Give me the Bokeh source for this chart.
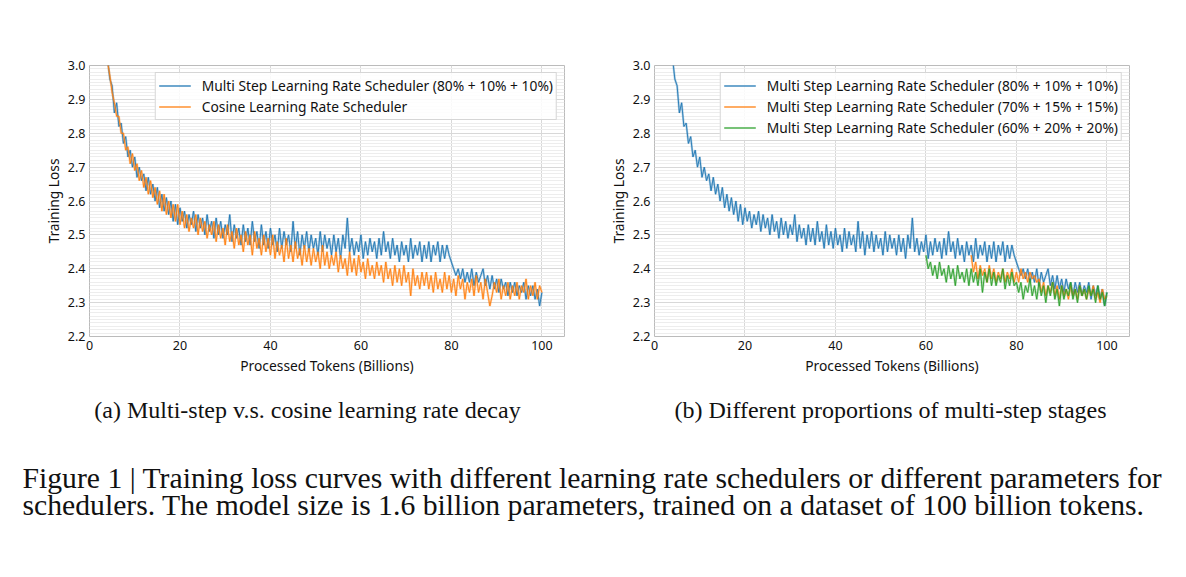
from bokeh.plotting import figure
from bokeh.models import Range1d, FixedTicker, Legend, LegendItem, Label
from bokeh.layouts import column, row
from bokeh.embed import file_html
from bokeh.resources import INLINE

# ---------------- data ----------------
STEP = 0.5
# Multi Step 80% + 10% + 10%  (x from 4.0 to 100.0, step 0.5)
multi_80 = [
    3.02, 2.96, 2.94, 2.86, 2.89, 2.82, 2.83, 2.77, 2.79, 2.73,
    2.75, 2.70, 2.73, 2.67, 2.70, 2.66, 2.68, 2.63, 2.67, 2.62,
    2.65, 2.60, 2.64, 2.58, 2.62, 2.57, 2.61, 2.56, 2.60, 2.54,
    2.59, 2.53, 2.58, 2.54, 2.57, 2.52, 2.56, 2.53, 2.57, 2.51,
    2.56, 2.52, 2.55, 2.50, 2.56, 2.51, 2.54, 2.49, 2.55, 2.50,
    2.54, 2.49, 2.53, 2.50, 2.56, 2.48, 2.53, 2.49, 2.52, 2.47,
    2.53, 2.48, 2.52, 2.47, 2.54, 2.48, 2.51, 2.46, 2.53, 2.47,
    2.51, 2.46, 2.52, 2.47, 2.50, 2.45, 2.52, 2.46, 2.51, 2.47,
    2.50, 2.45, 2.54, 2.46, 2.51, 2.44, 2.50, 2.46, 2.51, 2.45,
    2.50, 2.46, 2.49, 2.44, 2.51, 2.45, 2.50, 2.46, 2.49, 2.44,
    2.50, 2.45, 2.49, 2.43, 2.50, 2.46, 2.55, 2.45, 2.49, 2.44,
    2.48, 2.45, 2.50, 2.43, 2.48, 2.44, 2.49, 2.45, 2.48, 2.43,
    2.49, 2.44, 2.51, 2.45, 2.48, 2.43, 2.49, 2.44, 2.47, 2.42,
    2.48, 2.44, 2.47, 2.42, 2.49, 2.43, 2.47, 2.44, 2.48, 2.42,
    2.47, 2.43, 2.48, 2.42, 2.47, 2.44, 2.48, 2.42, 2.47, 2.43,
    2.47, 2.44, 2.42, 2.40, 2.38, 2.40, 2.37, 2.40, 2.36, 2.39,
    2.36, 2.40, 2.35, 2.39, 2.36, 2.38, 2.40, 2.35, 2.38, 2.34,
    2.38, 2.34, 2.37, 2.33, 2.37, 2.34, 2.36, 2.32, 2.36, 2.33,
    2.36, 2.32, 2.35, 2.33, 2.36, 2.31, 2.35, 2.32, 2.35, 2.31,
    2.34, 2.29, 2.33,
]
multi_80_start = 4.0

# Cosine scheduler (x from 4.0 to 100.0, step 0.5)
cosine = [
    3.01, 2.97, 2.92, 2.89, 2.85, 2.85, 2.80, 2.80, 2.75, 2.76,
    2.71, 2.74, 2.69, 2.71, 2.66, 2.69, 2.64, 2.67, 2.62, 2.66,
    2.61, 2.64, 2.59, 2.63, 2.57, 2.62, 2.56, 2.60, 2.55, 2.59,
    2.54, 2.59, 2.53, 2.57, 2.52, 2.56, 2.51, 2.55, 2.52, 2.56,
    2.50, 2.55, 2.51, 2.54, 2.49, 2.53, 2.50, 2.54, 2.48, 2.53,
    2.49, 2.52, 2.47, 2.53, 2.48, 2.51, 2.46, 2.52, 2.47, 2.50,
    2.45, 2.51, 2.47, 2.50, 2.44, 2.51, 2.46, 2.49, 2.44, 2.50,
    2.45, 2.49, 2.44, 2.50, 2.43, 2.48, 2.44, 2.47, 2.42, 2.49,
    2.43, 2.47, 2.42, 2.48, 2.43, 2.46, 2.41, 2.47, 2.42, 2.46,
    2.41, 2.46, 2.42, 2.45, 2.40, 2.47, 2.41, 2.45, 2.40, 2.44,
    2.41, 2.45, 2.39, 2.44, 2.40, 2.43, 2.38, 2.45, 2.39, 2.43,
    2.38, 2.44, 2.39, 2.42, 2.37, 2.43, 2.38, 2.41, 2.37, 2.42,
    2.38, 2.41, 2.36, 2.42, 2.37, 2.40, 2.35, 2.41, 2.36, 2.40,
    2.35, 2.41, 2.36, 2.39, 2.32, 2.40, 2.35, 2.38, 2.34, 2.39,
    2.35, 2.39, 2.34, 2.38, 2.33, 2.39, 2.34, 2.37, 2.33, 2.39,
    2.34, 2.38, 2.33, 2.37, 2.32, 2.38, 2.34, 2.37, 2.31, 2.36,
    2.33, 2.37, 2.32, 2.38, 2.33, 2.36, 2.31, 2.37, 2.33, 2.29,
    2.32, 2.36, 2.33, 2.37, 2.31, 2.35, 2.32, 2.36, 2.31, 2.35,
    2.32, 2.36, 2.31, 2.35, 2.33, 2.37, 2.31, 2.35, 2.32, 2.36,
    2.31, 2.35, 2.33,
]
cosine_start = 4.0

# Multi Step 70% + 15% + 15% (x from 70.0 to 100.0, step 0.5)
multi_70 = [
    2.44, 2.39, 2.42, 2.37, 2.41, 2.38, 2.40, 2.36, 2.41, 2.37,
    2.40, 2.36, 2.39, 2.37, 2.40, 2.36, 2.39, 2.37, 2.40, 2.36,
    2.39, 2.36, 2.40, 2.37, 2.39, 2.36, 2.39, 2.37, 2.38, 2.36,
    2.37, 2.33, 2.36, 2.32, 2.35, 2.33, 2.36, 2.32, 2.35, 2.31,
    2.35, 2.32, 2.34, 2.31, 2.35, 2.32, 2.34, 2.31, 2.35, 2.32,
    2.34, 2.31, 2.34, 2.32, 2.35, 2.31, 2.33, 2.30, 2.34, 2.31,
    2.32,
]
multi_70_start = 70.0

# Multi Step 60% + 20% + 20% (x from 60.0 to 100.0, step 0.5)
multi_60 = [
    2.44, 2.40, 2.42, 2.38, 2.41, 2.37, 2.42, 2.38, 2.40, 2.36,
    2.41, 2.37, 2.40, 2.35, 2.41, 2.37, 2.39, 2.36, 2.40, 2.35,
    2.40, 2.36, 2.39, 2.35, 2.40, 2.33, 2.39, 2.36, 2.40, 2.35,
    2.39, 2.35, 2.38, 2.36, 2.40, 2.34, 2.38, 2.35, 2.39, 2.35,
    2.36, 2.33, 2.36, 2.31, 2.35, 2.33, 2.37, 2.32, 2.35, 2.31,
    2.36, 2.32, 2.35, 2.30, 2.35, 2.32, 2.36, 2.31, 2.34, 2.29,
    2.35, 2.31, 2.34, 2.32, 2.36, 2.31, 2.34, 2.30, 2.35, 2.32,
    2.34, 2.31, 2.35, 2.32, 2.34, 2.30, 2.35, 2.31, 2.33, 2.29,
    2.33,
]
multi_60_start = 60.0

x_ticks = [0, 20, 40, 60, 80, 100]
y_ticks = [2.2, 2.3, 2.4, 2.5, 2.6, 2.7, 2.8, 2.9, 3.0]
y_tick_labels = ["2.2", "2.3", "2.4", "2.5", "2.6", "2.7", "2.8", "2.9", "3.0"]

label_80 = "Multi Step Learning Rate Scheduler (80% + 10% + 10%)"
label_cos = "Cosine Learning Rate Scheduler"
label_70 = "Multi Step Learning Rate Scheduler (70% + 15% + 15%)"
label_60 = "Multi Step Learning Rate Scheduler (60% + 20% + 20%)"
x_title = "Processed Tokens (Billions)"
y_title = "Training Loss"
sub_a = "(a) Multi-step v.s. cosine learning rate decay"
sub_b = "(b) Different proportions of multi-step stages"
caption_1 = "Figure 1 | Training loss curves with different learning rate schedulers or different parameters for"
caption_2 = "schedulers. The model size is 1.6 billion parameters, trained on a dataset of 100 billion tokens."

BLUE, ORANGE, GREEN = "#1f77b4", "#ff7f0e", "#2ca02c"


def xs(start, vals):
    return [start + STEP * i for i in range(len(vals))]


SANS = "Noto Sans"
minor = [round(2.2 + 0.01 * i, 2) for i in range(81)]


def make_panel(width, left, right):
    p = figure(width=width, height=385, x_range=Range1d(0, 105), y_range=Range1d(2.2, 3.0),
               output_backend="svg", toolbar_location=None,
               min_border_left=left, min_border_right=right,
               min_border_top=65, min_border_bottom=49)
    p.outline_line_color = "#bbbbbb"
    p.outline_line_width = 1
    xt = FixedTicker(ticks=x_ticks)
    yt = FixedTicker(ticks=y_ticks, minor_ticks=minor)
    p.xaxis.ticker = xt
    p.yaxis.ticker = yt
    p.xgrid.ticker = xt
    p.ygrid.ticker = yt
    p.yaxis.major_label_overrides = {t: s for t, s in zip(y_ticks, y_tick_labels)}
    p.xgrid.grid_line_color = "#d8d8d8"
    p.ygrid.grid_line_color = "#d8d8d8"
    p.ygrid.minor_grid_line_color = "#ededed"
    for ax in (p.xaxis[0], p.yaxis[0]):
        ax.axis_line_color = None
        ax.major_tick_line_color = None
        ax.minor_tick_line_color = None
        ax.major_tick_out = 0
        ax.major_tick_in = 0
        ax.minor_tick_out = 0
        ax.minor_tick_in = 0
        ax.major_label_text_font = SANS
        ax.major_label_text_font_size = "12.5px"
        ax.major_label_text_color = "#111111"
        ax.axis_label_text_font = SANS
        ax.axis_label_text_font_size = "13.8px"
        ax.axis_label_text_font_style = "normal"
        ax.axis_label_text_color = "#111111"
    p.yaxis.major_label_standoff = 4
    p.yaxis.axis_label_standoff = 2
    p.xaxis.major_label_standoff = 4
    p.xaxis.axis_label_standoff = 3
    p.xaxis.axis_label = x_title
    p.yaxis.axis_label = y_title
    return p


def style_legend(p, items):
    leg = Legend(items=items, location="top_right")
    leg.margin = 7
    leg.padding = 3
    leg.spacing = 2
    leg.glyph_width = 32
    leg.glyph_height = 15
    leg.label_height = 15
    leg.label_standoff = 11
    leg.label_text_font = SANS
    leg.label_text_font_size = "13.8px"
    leg.label_text_color = "#111111"
    leg.border_line_color = "#cccccc"
    leg.border_line_alpha = 0.8
    leg.background_fill_alpha = 0.85
    p.add_layout(leg)


def draw(p, x, y, color):
    halo = p.line(x, y, color=color, line_width=2.2, line_alpha=0.35)
    core = p.line(x, y, color=color, line_width=1, line_alpha=0.9)
    return [halo, core]


# ---------------- panel (a) ----------------
p1 = make_panel(575, 89, 11)
r1 = draw(p1, xs(multi_80_start, multi_80), multi_80, BLUE)
r2 = draw(p1, xs(cosine_start, cosine), cosine, ORANGE)
style_legend(p1, [LegendItem(label=label_80, renderers=r1),
                  LegendItem(label=label_cos, renderers=r2)])

# ---------------- panel (b) ----------------
p2 = make_panel(611, 79, 57)
s1 = draw(p2, xs(multi_80_start, multi_80), multi_80, BLUE)
s2 = draw(p2, xs(multi_70_start, multi_70), multi_70, ORANGE)
s3 = draw(p2, xs(multi_60_start, multi_60), multi_60, GREEN)
style_legend(p2, [LegendItem(label=label_80, renderers=s1),
                  LegendItem(label=label_70, renderers=s2),
                  LegendItem(label=label_60, renderers=s3)])

# ---------------- captions ----------------
p3 = figure(width=1186, height=192, x_range=Range1d(0, 1186), y_range=Range1d(577, 385),
            output_backend="svg", toolbar_location=None, x_axis_type=None, y_axis_type=None,
            min_border=0)
p3.outline_line_color = None
p3.grid.visible = False
SERIF = "Liberation Serif"
for txt, x, y, align, size in [
    (sub_a, 307, 409, "center", "24px"),
    (sub_b, 890, 409, "center", "24px"),
    (caption_1, 22, 477, "left", "29.7px"),
    (caption_2, 22, 504, "left", "29.7px"),
]:
    p3.add_layout(Label(x=x, y=y, text=txt, text_align=align, text_baseline="alphabetic",
                        text_font=SERIF, text_font_size=size, text_color="#111111"))

layout = column(row(p1, p2), p3)
open("out.html", "w").write(file_html(layout, INLINE))
